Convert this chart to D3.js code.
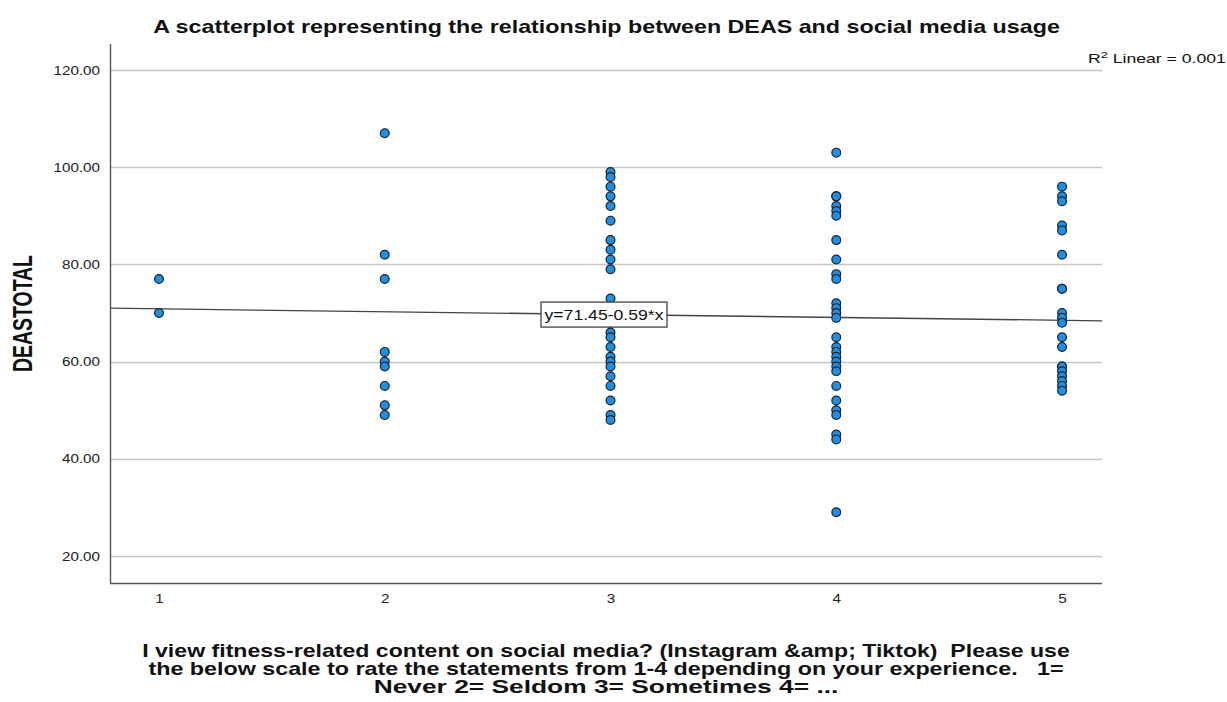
<!DOCTYPE html>
<html>
<head>
<meta charset="utf-8">
<script src="https://cdn.jsdelivr.net/npm/d3@7"></script>
<style>
  html, body { margin: 0; padding: 0; background: #fff; }
  svg { display: block; font-family: "Liberation Sans", Arial, sans-serif; }
</style>
</head>
<body>
<svg id="chart" width="1227" height="702"></svg>
<script>
// Social media usage rating (x) and DEAS total score (y), grouped by rating
const rating1 = [77, 70];
const rating2 = [107, 82, 77, 62, 60, 59, 55, 51, 49];
const rating3 = [99, 98, 96, 94, 92, 89, 85, 83, 81, 79, 73, 71, 70, 68, 66, 65, 63, 61, 60, 59, 57, 55, 52, 49, 48];
const rating4 = [103, 94, 94, 92, 91, 90, 85, 81, 78, 77, 72, 71, 70, 69, 65, 63, 62, 61, 60, 59, 58, 55, 52, 50, 49, 45, 44, 29];
const rating5 = [96, 94, 93, 88, 87, 82, 75, 75, 70, 69, 68, 65, 63, 59, 59, 58, 57, 56, 55, 54];

const xTicks = [1, 2, 3, 4, 5];
const yTicks = [20, 40, 60, 80, 100, 120];

// Linear fit reported for the data
const fitIntercept = 71.45;
const fitSlope = -0.59;
const rSquared = "0.001";

const titleText = "A scatterplot representing the relationship between DEAS and social media usage";
const yTitle = "DEASTOTAL";
const xTitleLines = [
  "I view fitness-related content on social media? (Instagram &amp; Tiktok)  Please use",
  "the below scale to rate the statements from 1-4 depending on your experience.   1=",
  "Never 2= Seldom 3= Sometimes 4= ..."
];

const points = [];
[rating1, rating2, rating3, rating4, rating5].forEach((vals, i) => {
  vals.forEach(v => points.push({ x: xTicks[i], y: v }));
});

const svg = d3.select("#chart");
const plot = { left: 110, right: 1102, top: 44, bottom: 583 };
const STRETCH = 1.17; // horizontal glyph widening used for the small labels

const x = d3.scaleLinear().domain([0.783, 5.177]).range([plot.left, plot.right]);
const y = d3.scaleLinear().domain([14.45, 125.35]).range([plot.bottom, plot.top]);

// Place a text at (px, py) and widen it horizontally to the given width
function fitWidth(sel, px, py, width) {
  sel.attr("x", 0).attr("y", 0);
  const natural = sel.node().getComputedTextLength();
  sel.attr("transform", `translate(${px},${py}) scale(${width / natural},1)`);
}

// Horizontal grid lines
svg.append("g")
  .selectAll("line")
  .data(yTicks)
  .join("line")
  .attr("x1", plot.left).attr("x2", plot.right)
  .attr("y1", d => Math.round(y(d)) + 0.5).attr("y2", d => Math.round(y(d)) + 0.5)
  .attr("stroke", "#c6c6c6").attr("stroke-width", 1.4);

// Y axis tick labels
const yAxis = svg.append("g")
  .attr("transform", `translate(${plot.left},0)`)
  .call(d3.axisLeft(y).tickValues(yTicks).tickFormat(d3.format(".2f")).tickSize(0).tickPadding(10));
yAxis.select(".domain").remove();
yAxis.selectAll("text")
  .attr("font-size", 13).attr("fill", "#222")
  .style("font-family", "'Liberation Sans', Arial, sans-serif")
  .attr("x", 0)
  .attr("transform", `translate(-10,0) scale(${STRETCH},1)`);

// X axis tick labels
const xAxis = svg.append("g")
  .attr("transform", `translate(0,${plot.bottom})`)
  .call(d3.axisBottom(x).tickValues(xTicks).tickFormat(d3.format("d")).tickSize(0).tickPadding(12));
xAxis.select(".domain").remove();
xAxis.selectAll("text")
  .attr("font-size", 13).attr("fill", "#222")
  .style("font-family", "'Liberation Sans', Arial, sans-serif")
  .attr("y", 11)
  .attr("dy", "0.71em")
  .attr("transform", `scale(${STRETCH},1)`);

// Axis frame lines
svg.append("line")
  .attr("x1", plot.left + 0.5).attr("x2", plot.left + 0.5)
  .attr("y1", plot.top).attr("y2", plot.bottom)
  .attr("stroke", "#555").attr("stroke-width", 1.4);
svg.append("line")
  .attr("x1", plot.left).attr("x2", plot.right)
  .attr("y1", plot.bottom + 0.5).attr("y2", plot.bottom + 0.5)
  .attr("stroke", "#555").attr("stroke-width", 1.4);

// Fit line
const fit = v => fitIntercept + fitSlope * v;
const xd = x.domain();
svg.append("line")
  .attr("x1", x(xd[0])).attr("y1", y(fit(xd[0])))
  .attr("x2", x(xd[1])).attr("y2", y(fit(xd[1])))
  .attr("stroke", "#444").attr("stroke-width", 1.3);

// Points
svg.append("g")
  .selectAll("circle")
  .data(points)
  .join("circle")
  .attr("cx", d => x(d.x))
  .attr("cy", d => y(d.y))
  .attr("r", 4.4)
  .attr("fill", "#1f8fe6")
  .attr("stroke", "#16222e")
  .attr("stroke-width", 1.2);

// Fit equation label
const eq = `y=${fitIntercept.toFixed(2)}${fitSlope < 0 ? "-" : "+"}${Math.abs(fitSlope).toFixed(2)}*x`;
const eqCx = 604, eqY = y(fit(3));
const eqG = svg.append("g");
eqG.append("rect")
  .attr("x", eqCx - 63).attr("y", eqY - 12.5)
  .attr("width", 126).attr("height", 25)
  .attr("fill", "#fff").attr("stroke", "#333").attr("stroke-width", 1.2);
eqG.append("text")
  .attr("text-anchor", "middle")
  .attr("font-size", 14)
  .attr("fill", "#111")
  .text(eq)
  .call(s => fitWidth(s, eqCx, eqY + 5, 119));

// R-squared annotation
const r2 = svg.append("text")
  .attr("font-size", 13).attr("fill", "#111");
r2.append("tspan").text("R");
r2.append("tspan").attr("dy", -5).attr("font-size", 9.5).text("2");
r2.append("tspan").attr("dy", 5).text(` Linear = ${rSquared}`);
{
  const w = r2.node().getBBox().width;
  r2.attr("transform", `translate(1088,63) scale(${138 / w},1)`);
}

// Title
svg.append("text")
  .attr("text-anchor", "middle")
  .attr("font-size", 18).attr("font-weight", "bold").attr("fill", "#111")
  .text(titleText)
  .call(s => fitWidth(s, 606.5, 33, 907));

// Y axis title
const yt = svg.append("text")
  .attr("text-anchor", "middle")
  .attr("font-size", 19).attr("font-weight", "bold").attr("fill", "#111")
  .text(yTitle);
{
  const natural = yt.node().getComputedTextLength();
  const sy = 117 / natural;
  yt.attr("transform", `translate(32,${(plot.top + plot.bottom) / 2}) scale(1.45,1) rotate(-90) scale(${sy},1)`);
}

// X axis title (three lines)
const xtWidths = [928, 916, 465];
svg.append("g")
  .selectAll("text")
  .data(xTitleLines)
  .join("text")
  .attr("text-anchor", "middle")
  .attr("font-size", 18).attr("font-weight", "bold").attr("fill", "#111")
  .attr("xml:space", "preserve")
  .style("white-space", "pre")
  .text(d => d)
  .each(function (d, i) {
    fitWidth(d3.select(this), 606, 657 + i * 18, xtWidths[i]);
  });
</script>
</body>
</html>
